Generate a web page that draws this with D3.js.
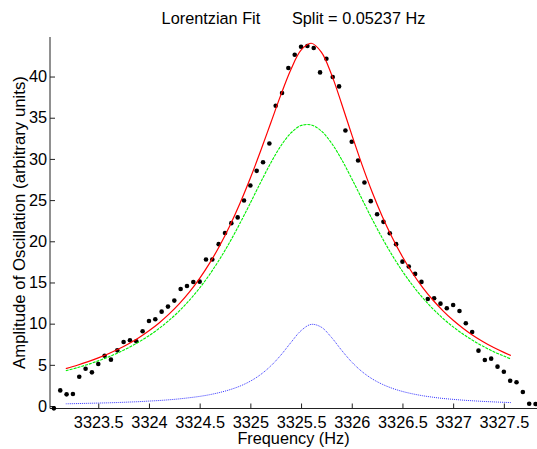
<!DOCTYPE html>
<html>
<head>
<meta charset="utf-8">
<script src="https://cdn.jsdelivr.net/npm/d3@7"></script>
<style>
  html, body { margin: 0; padding: 0; background: #fff; }
  svg { display: block; }
  text { font-family: "Liberation Sans", Arial, Helvetica, sans-serif; fill: #000; }
</style>
</head>
<body>
<svg id="chart" width="537" height="449"></svg>
<script>
// ---- Data ----
const titleLeft = "Lorentzian Fit";
const titleRight = "Split = 0.05237 Hz";
const xLabel = "Frequency (Hz)";
const yLabel = "Amplitude of Oscillation (arbitrary units)";

// measured points: frequency start + step, amplitudes
const pointStart = 3323.0625;
const pointStep = 0.0625;
const pointValues = [
  -0.28, 1.9, 1.42, 1.46, 3.56, 4.53, 4.09, 5.10, 6.11, 5.63,
  6.76, 7.78, 7.98, 7.86, 9.07, 10.33, 10.53, 11.46, 12.07, 12.8,
  14.2, 14.58, 15.05, 15.1, 17.78, 17.78, 19.65, 21.0, 22.2, 22.9,
  24.95, 26.77, 28.55, 29.6, 31.87, 36.45, 38.0, 41.03, 42.65, 43.62,
  43.7, 43.46, 40.5, 42.16, 39.94, 38.8, 33.45, 32.08, 29.8, 27.13,
  24.87, 23.29, 22.36, 20.98, 19.65, 17.53, 16.93, 16.04, 15.07, 13.0,
  13.08, 12.43, 11.87, 12.27, 11.54, 10.05, 8.99, 6.72, 5.59, 5.75,
  4.78, 4.17, 3.07, 2.88, 1.70, 0.28, 0.24
];

// fitted curves sampled at these frequencies
const curveX = [
  3323.18, 3323.3, 3323.4, 3323.5, 3323.6, 3323.7, 3323.8, 3323.9, 3324.0, 3324.1,
  3324.2, 3324.3, 3324.4, 3324.5, 3324.6, 3324.7, 3324.8, 3324.9, 3325.0, 3325.1,
  3325.2, 3325.3, 3325.4, 3325.5, 3325.6, 3325.7, 3325.8, 3325.9, 3326.0, 3326.1,
  3326.2, 3326.3, 3326.4, 3326.5, 3326.6, 3326.7, 3326.8, 3326.9, 3327.0, 3327.1,
  3327.2, 3327.3, 3327.4, 3327.5, 3327.57
];
const totalFit = [
  4.55, 4.98, 5.39, 5.84, 6.35, 6.92, 7.57, 8.30, 9.14, 10.09,
  11.18, 12.43, 13.86, 15.50, 17.38, 19.52, 21.95, 24.67, 27.68, 30.92,
  34.33, 37.74, 40.86, 43.20, 44.04, 42.96, 40.26, 36.70, 32.95, 29.34,
  26.02, 23.05, 20.43, 18.13, 16.12, 14.38, 12.87, 11.56, 10.41, 9.42,
  8.54, 7.78, 7.10, 6.51, 6.13
];
const peak1Fit = [
  4.28, 4.68, 5.06, 5.48, 5.96, 6.49, 7.09, 7.77, 8.54, 9.42,
  10.42, 11.55, 12.85, 14.33, 16.00, 17.88, 19.96, 22.24, 24.65, 27.12,
  29.48, 31.57, 33.15, 34.05, 34.13, 33.39, 31.93, 29.93, 27.60, 25.15,
  22.71, 20.41, 18.28, 16.36, 14.65, 13.13, 11.80, 10.63, 9.61, 8.71,
  7.92, 7.22, 6.60, 6.06, 5.71
];
const peak2Fit = [
  0.27, 0.30, 0.33, 0.36, 0.39, 0.43, 0.48, 0.53, 0.60, 0.67,
  0.76, 0.87, 1.01, 1.17, 1.38, 1.65, 1.99, 2.43, 3.02, 3.81,
  4.85, 6.17, 7.71, 9.15, 9.91, 9.57, 8.33, 6.77, 5.34, 4.19,
  3.31, 2.65, 2.15, 1.77, 1.48, 1.25, 1.07, 0.92, 0.81, 0.71,
  0.63, 0.56, 0.50, 0.45, 0.42
];

const xTicks = [3323.5, 3324, 3324.5, 3325, 3325.5, 3326, 3326.5, 3327, 3327.5];
const yTicks = [0, 5, 10, 15, 20, 25, 30, 35, 40];

// ---- Layout ----
const svg = d3.select("#chart");
const padL = 50, padR = 537, padT = 37, padB = 408.5;
const x = d3.scaleLinear().domain([3323.024, 3327.827]).range([padL, padR]);
const y = d3.scaleLinear().domain([-0.3, 44.8]).range([padB, padT]);

const fontSize = 16.3;

// Axes (MATLAB style: ticks inside)
const xAxis = d3.axisBottom(x).tickValues(xTicks).tickSize(-5).tickPadding(7.5)
  .tickFormat(d => String(d));
const yAxis = d3.axisLeft(y).tickValues(yTicks).tickSize(-5).tickPadding(3)
  .tickFormat(d => String(d));

const gx = svg.append("g").attr("transform", `translate(0,${padB})`).call(xAxis);
const gy = svg.append("g").attr("transform", `translate(${padL},0)`).call(yAxis);
[gx, gy].forEach(g => {
  g.select(".domain").attr("stroke", "#222").attr("stroke-width", 1);
  g.selectAll(".tick line").attr("stroke", "#222");
  g.selectAll(".tick text").style("font-size", fontSize + "px")
    .style("font-family", '"Liberation Sans", Arial, sans-serif').attr("fill", "#000");
});
gx.select(".domain").attr("d", `M${padL},0H${padR}`);
gy.select(".domain").attr("d", `M0,${padB}V${padT}`);
gx.selectAll(".tick text").attr("dy", "0.71em");

// Curves
const curveData = (vals) => curveX.map((d, i) => [d, vals[i]]);
const line = d3.line().x(d => x(d[0])).y(d => y(d[1])).curve(d3.curveCatmullRom.alpha(0.5));

// Measured points
const points = pointValues.map((v, i) => [pointStart + i * pointStep, v]);
svg.append("g").selectAll("circle").data(points).join("circle")
  .attr("cx", d => x(d[0])).attr("cy", d => y(d[1])).attr("r", 2.3).attr("fill", "#000");

svg.append("path").datum(curveData(totalFit)).attr("d", line)
  .attr("fill", "none").attr("stroke", "#ff0000").attr("stroke-width", 1.2);
svg.append("path").datum(curveData(peak1Fit)).attr("d", line)
  .attr("fill", "none").attr("stroke", "#00ee00").attr("stroke-width", 1.1)
  .attr("stroke-dasharray", "3,1");
svg.append("path").datum(curveData(peak2Fit)).attr("d", line)
  .attr("fill", "none").attr("stroke", "#3333ff").attr("stroke-width", 1)
  .attr("stroke-dasharray", "1,1");

// Title
svg.append("text").attr("x", 293.5).attr("y", 24).attr("text-anchor", "middle")
  .style("font-size", fontSize + "px").style("white-space", "pre")
  .text(titleLeft + "       " + titleRight);

// Axis labels
svg.append("text").attr("x", 293.5).attr("y", 444).attr("text-anchor", "middle")
  .style("font-size", fontSize + "px").text(xLabel);
svg.append("text").attr("transform", `translate(24.5,222.5) rotate(-90)`)
  .attr("text-anchor", "middle").style("font-size", "16.8px").text(yLabel);
</script>
</body>
</html>
